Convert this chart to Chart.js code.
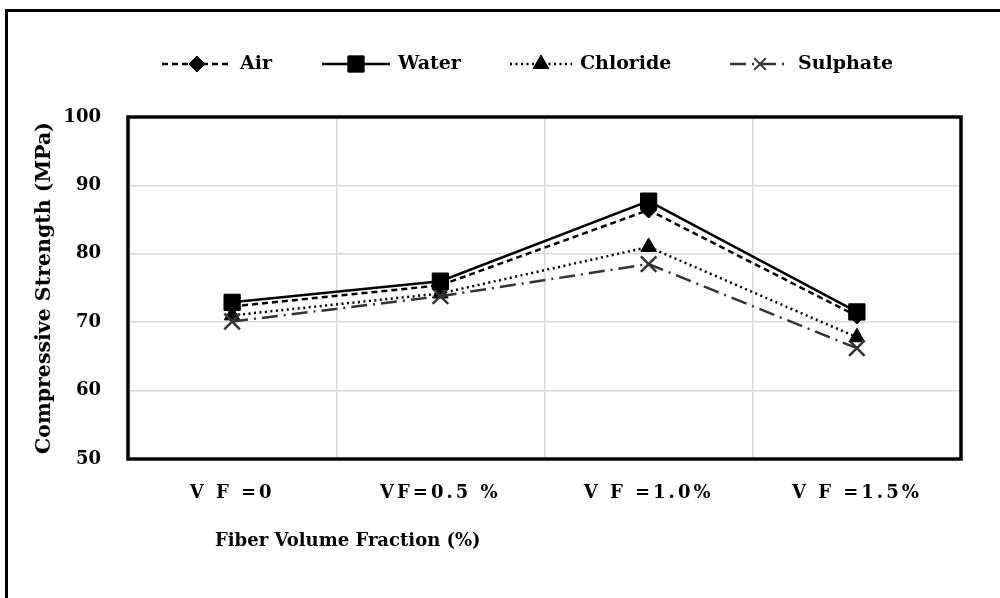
<!DOCTYPE html>
<html lang="en">
  <head>
    <meta charset="UTF-8" />
    <title>Compressive Strength</title>
    <script src="https://cdn.jsdelivr.net/npm/chart.js"></script>
    <style>
      html, body { margin: 0; padding: 0; background: #fff; overflow: hidden; }
      #wrap { position: relative; width: 1000px; height: 598px; }
      #frame {
        position: absolute; left: 5px; top: 9px; width: 1100px; height: 700px;
        border: 3px solid #000; pointer-events: none;
      }
      canvas { position: absolute; left: 0; top: 0; }
    </style>
  </head>
  <body>
    <div id="wrap">
      <canvas id="strengthChart" width="1000" height="598"></canvas>
      <div id="frame"></div>
    </div>

    <script>
      const labels = ["V F =0", "VF=0.5 %", "V F =1.0%", "V F =1.5%"];
      const air = [72.3, 75.4, 86.4, 70.9];
      const water = [72.9, 76.0, 87.7, 71.5];
      const chloride = [71.0, 74.2, 81.0, 67.8];
      const sulphate = [70.1, 73.8, 78.5, 66.2];
      const yTicks = [50, 60, 70, 80, 90, 100];

      const FONT = "'DejaVu Serif', serif";

      const series = [
        { label: "Air", data: air, dash: [6, 4], color: "#000", style: "rectRot", r: 8, order: 1, legendX: 162, legendW: 70 },
        { label: "Water", data: water, dash: [], color: "#000", style: "rect", r: 11.5, order: 0, legendX: 322, legendW: 68 },
        { label: "Chloride", data: chloride, dash: [2, 3.5], color: "#000", style: "triangle", r: 9, order: 3, legendX: 510, legendW: 62 },
        { label: "Sulphate", data: sulphate, dash: [16, 6, 2, 6], color: "#333", style: "crossRot", r: 11, order: 2, legendX: 730, legendW: 60 },
      ];

      // legend drawn by hand: line sample with marker in the middle
      const lineLegend = {
        id: "lineLegend",
        afterDraw(chart) {
          const ctx = chart.ctx;
          const y = 64;
          ctx.save();
          ctx.letterSpacing = "0px";
          series.forEach((s) => {
            ctx.strokeStyle = s.color;
            ctx.fillStyle = s.color;
            ctx.lineWidth = 2.5;
            ctx.setLineDash(s.dash);
            ctx.beginPath();
            ctx.moveTo(s.legendX, y);
            ctx.lineTo(s.legendX + s.legendW, y);
            ctx.stroke();
            ctx.setLineDash([]);
            ctx.lineWidth = s.style === "crossRot" ? 2 : 1;
            const r = s.style === "crossRot" ? s.r * 0.75 : s.r;
            Chart.helpers.drawPoint(ctx, { pointStyle: s.style, radius: r, rotation: 0, borderWidth: ctx.lineWidth }, s.legendX + s.legendW / 2, y);
            ctx.fillStyle = "#000";
            ctx.font = "bold 19px " + FONT;
            ctx.textBaseline = "middle";
            ctx.textAlign = "left";
            ctx.fillText(s.label, s.legendX + s.legendW + 8, y);
          });
          ctx.restore();
        },
      };

      const frameAndTitle = {
        id: "frameAndTitle",
        beforeDraw(chart) {
          const xs = chart.scales.x;
          if (!xs._spaced) {
            const orig = xs.drawLabels;
            xs.drawLabels = function (area) {
              chart.ctx.letterSpacing = "3px";
              orig.call(this, area);
              chart.ctx.letterSpacing = "0px";
            };
            xs._spaced = true;
          }
        },
        afterDraw(chart) {
          const { ctx, chartArea: a } = chart;
          ctx.save();
          ctx.letterSpacing = "0px";
          ctx.strokeStyle = "#000";
          ctx.lineWidth = 3.5;
          ctx.strokeRect(a.left, a.top, a.right - a.left, a.bottom - a.top);
          ctx.fillStyle = "#000";
          ctx.font = "bold 18px " + FONT;
          ctx.textBaseline = "middle";
          ctx.textAlign = "left";
          ctx.fillText("Fiber Volume Fraction (%)", 215, 541);
          ctx.restore();
        },
      };

      new Chart(document.getElementById("strengthChart"), {
        type: "line",
        data: {
          labels: labels,
          datasets: series.map((s) => ({
            label: s.label,
            data: s.data,
            borderColor: s.color,
            backgroundColor: s.color,
            borderWidth: 2.5,
            borderDash: s.dash,
            pointStyle: s.style,
            pointRadius: s.r,
            pointBorderWidth: s.style === "crossRot" ? 2.5 : 1,
            pointBackgroundColor: s.color,
            pointBorderColor: s.color,
            tension: 0,
            fill: false,
            order: s.order,
          })),
        },
        options: {
          responsive: false,
          animation: false,
          layout: { padding: { top: 117, right: 39, left: 0, bottom: 0 } },
          plugins: { legend: { display: false }, tooltip: { enabled: false } },
          scales: {
            x: {
              offset: true,
              grid: { offset: true, color: "#d9d9d9", lineWidth: 1.5, drawTicks: false },
              border: { display: false },
              ticks: { color: "#000", padding: 24, font: { family: FONT, size: 18, weight: "bold" } },
              afterFit(scale) { scale.height = 139; },
            },
            y: {
              min: 50,
              max: 100,
              afterBuildTicks(scale) { scale.ticks = yTicks.map((v) => ({ value: v })); },
              grid: { color: "#d9d9d9", lineWidth: 1.5, drawTicks: false },
              border: { display: false },
              ticks: { color: "#000", padding: 27, font: { family: FONT, size: 18, weight: "bold" } },
              title: {
                display: true,
                text: "Compressive Strength (MPa)",
                color: "#000",
                font: { family: FONT, size: 20.5, weight: "bold" },
                padding: { top: 32, bottom: 0 },
              },
              afterFit(scale) { scale.width = 128; },
            },
          },
        },
        plugins: [lineLegend, frameAndTitle],
      });
    </script>
  </body>
</html>
